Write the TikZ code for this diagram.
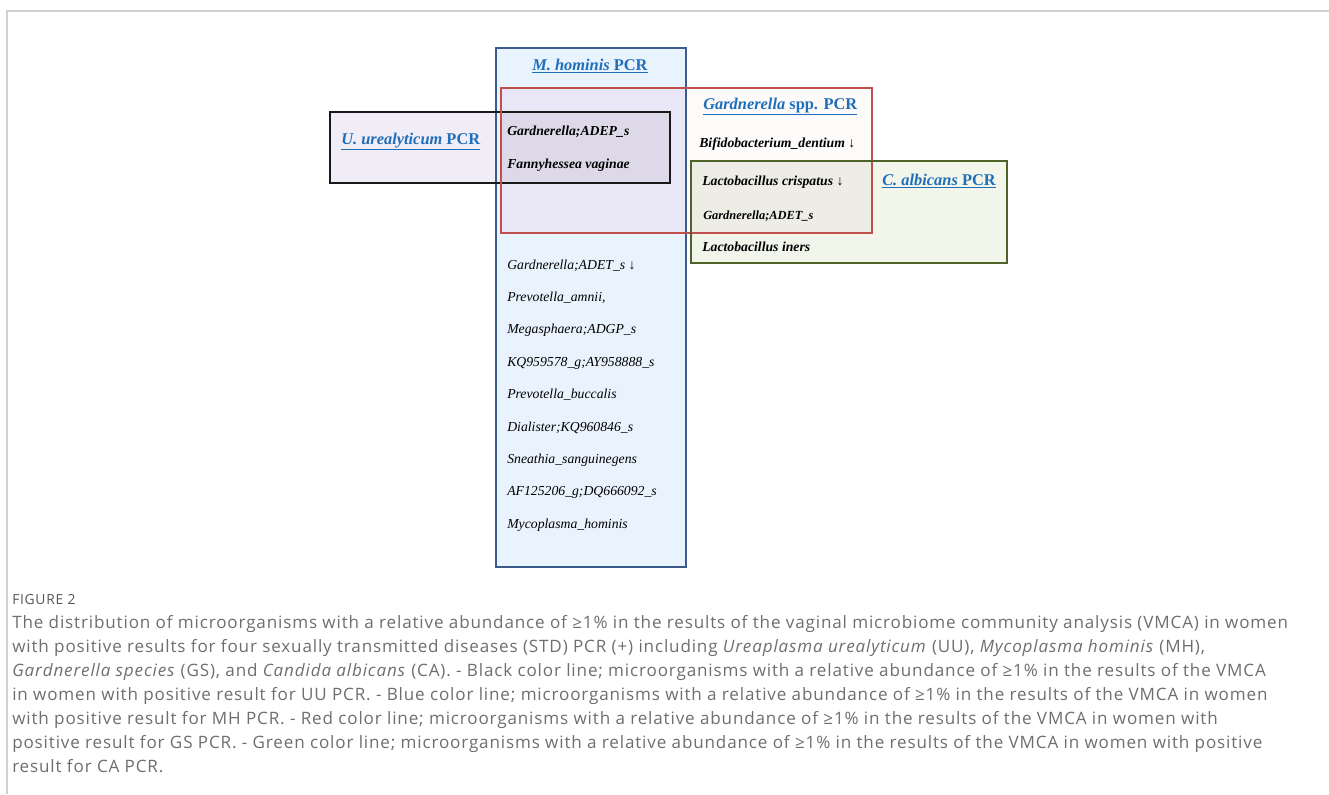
\documentclass[tikz,border=0pt]{standalone}
\usepackage{fontspec}
\setmainfont{Liberation Serif}
\newfontfamily\capfont[LetterSpace=5]{Open Sans}
\usetikzlibrary{fit}
\definecolor{mhline}{RGB}{58,92,140}
\definecolor{gsline}{RGB}{192,80,77}
\definecolor{uuline}{RGB}{25,25,25}
\definecolor{caline}{RGB}{79,98,40}
\definecolor{ttlblue}{RGB}{30,110,185}
\definecolor{mhfill}{RGB}{233,243,253}
\definecolor{uufill}{RGB}{241,237,247}
\definecolor{gsfill}{RGB}{253,250,250}
\definecolor{mhgsfill}{RGB}{233,231,245}
\definecolor{allfill}{RGB}{221,217,232}
\definecolor{cafill}{RGB}{242,246,234}
\definecolor{cagsfill}{RGB}{238,237,229}
\definecolor{capgray}{RGB}{110,110,110}
\definecolor{figgray}{RGB}{85,85,85}
\definecolor{framegray}{RGB}{208,208,208}
\begin{document}
\begin{tikzpicture}[x=0.75pt,y=-0.75pt,
 region/.style={inner sep=0pt, outer sep=0pt},
 border/.style={line width=1.9pt},
 ttl/.style={font=\fontsize{12.3}{14}\selectfont\bfseries, text=ttlblue, inner sep=0pt, anchor=base west},
 itm/.style={font=\fontsize{10.3}{12}\selectfont\bfseries\itshape, inner sep=0pt, anchor=base west},
 smitm/.style={font=\fontsize{9.3}{11}\selectfont\bfseries\itshape, inner sep=0pt, anchor=base west},
 mhitm/.style={font=\fontsize{10.3}{12}\selectfont\itshape, inner sep=0pt, anchor=base west},
 captxt/.style={font=\capfont\fontsize{12.8}{14}\selectfont, text=capgray, inner sep=0pt, anchor=base west},
 figlbl/.style={font=\capfont\fontsize{10.4}{12}\selectfont, text=figgray, inner sep=0pt, anchor=base west}]

\useasboundingbox (0,0) rectangle (1329,794);
\draw[framegray, line width=1.4pt] (7,794) coordinate (fb) -- (7,11) coordinate (ft) -- (1329,11) coordinate (fr);

% regions
\node[region, fit={(496,48) (686,567)}] (mh) {};
\node[region, fit={(330,112) (670,183)}] (uu) {};
\node[region, fit={(501,88) (872,233)}] (gs) {};
\node[region, fit={(691,161) (1007,263)}] (ca) {};

% fills
\fill[mhfill] (mh.north west) rectangle (mh.south east);
\fill[uufill] (uu.north west) rectangle (uu.south east);
\fill[gsfill] (gs.north west) rectangle (gs.south east);
\begin{scope}
 \clip (mh.north west) rectangle (mh.south east);
 \fill[mhgsfill] (gs.north west) rectangle (gs.south east);
 \clip (gs.north west) rectangle (gs.south east);
 \fill[allfill] (uu.north west) rectangle (uu.south east);
\end{scope}
\fill[cafill] (ca.north west) rectangle (ca.south east);
\begin{scope}
 \clip (gs.north west) rectangle (gs.south east);
 \fill[cagsfill] (ca.north west) rectangle (ca.south east);
\end{scope}

% borders
\draw[border, mhline] (mh.north west) rectangle (mh.south east);
\draw[border, uuline] (uu.north west) rectangle (uu.south east);
\draw[border, gsline] (gs.north west) rectangle (gs.south east);
\draw[border, caline] (ca.north west) rectangle (ca.south east);

% titles
\node[ttl] (tmh) at (532,70) {\underline{\textit{M. hominis} PCR}};
\node[ttl] (tuu) at (341,144) {\underline{\textit{U. urealyticum} PCR}};
\node[ttl] (tgs) at (703,109) {\underline{\textit{Gardnerella} spp. PCR}};
\node[ttl] (tca) at (882,185) {\underline{\textit{C. albicans} PCR}};

% items
\node[itm] (i1) at (507,135) {Gardnerella;ADEP\_s};
\node[itm] (i2) at (507,168) {Fannyhessea vaginae};
\node[itm] (i3) at (699,147) {Bifidobacterium\_dentium ↓};
\node[itm] (i4) at (702,185) {Lactobacillus crispatus ↓};
\node[smitm] (i5) at (703,219) {Gardnerella;ADET\_s};
\node[itm] (i6) at (702,251) {Lactobacillus iners};

\node[mhitm] (m1) at (507,269) {Gardnerella;ADET\_s ↓};
\node[mhitm] (m2) at (507,301.4) {Prevotella\_amnii,};
\node[mhitm] (m3) at (507,333.8) {Megasphaera;ADGP\_s};
\node[mhitm] (m4) at (507,366.2) {KQ959578\_g;AY958888\_s};
\node[mhitm] (m5) at (507,398.6) {Prevotella\_buccalis};
\node[mhitm] (m6) at (507,431) {Dialister;KQ960846\_s};
\node[mhitm] (m7) at (507,463.4) {Sneathia\_sanguinegens};
\node[mhitm] (m8) at (507,495.8) {AF125206\_g;DQ666092\_s};
\node[mhitm] (m9) at (507,528.2) {Mycoplasma\_hominis};

% caption
\node[figlbl] (fig) at (12,604) {FIGURE 2};
\node[captxt] (c1) at (12,628) {The distribution of microorganisms with a relative abundance of ≥1\% in the results of the vaginal microbiome community analysis (VMCA) in women};
\node[captxt] (c2) at (12,652) {with positive results for four sexually transmitted diseases (STD) PCR (+) including \textit{Ureaplasma urealyticum} (UU), \textit{Mycoplasma hominis} (MH),};
\node[captxt] (c3) at (12,676) {\textit{Gardnerella species} (GS), and \textit{Candida albicans} (CA). - Black color line; microorganisms with a relative abundance of ≥1\% in the results of the VMCA};
\node[captxt] (c4) at (12,700) {in women with positive result for UU PCR. - Blue color line; microorganisms with a relative abundance of ≥1\% in the results of the VMCA in women};
\node[captxt] (c5) at (12,724) {with positive result for MH PCR. - Red color line; microorganisms with a relative abundance of ≥1\% in the results of the VMCA in women with};
\node[captxt] (c6) at (12,748) {positive result for GS PCR. - Green color line; microorganisms with a relative abundance of ≥1\% in the results of the VMCA in women with positive};
\node[captxt] (c7) at (12,772) {result for CA PCR.};
\end{tikzpicture}
\end{document}
